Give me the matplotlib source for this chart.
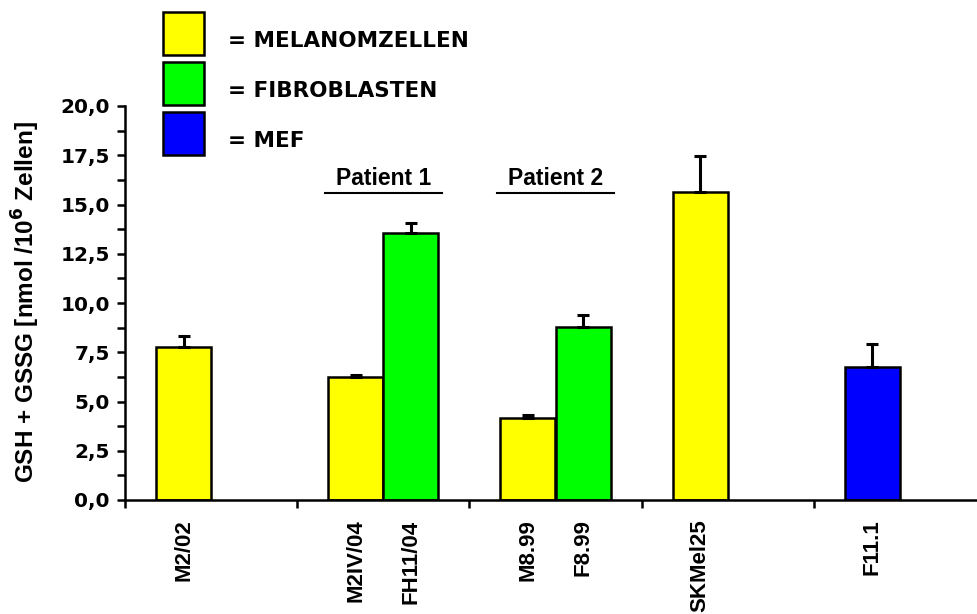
import numpy as np
import matplotlib.pyplot as plt
from matplotlib.patches import Rectangle
from matplotlib.ticker import MultipleLocator, FuncFormatter

# Daten
namen = ["M2/02", "M2IV/04", "FH11/04", "M8.99", "F8.99", "SKMel25", "F11.1"]
gruppe = [0, 1, 1, 2, 2, 3, 4]
platz = [0, 0, 1, 0, 1, 0, 0]  # 0 = links, 1 = rechts in der Gruppe
werte = [7.75, 6.22, 13.55, 4.15, 8.78, 15.63, 6.75]
fehler = [0.55, 0.12, 0.5, 0.15, 0.6, 1.83, 1.17]
typ = ["M", "M", "F", "M", "F", "M", "E"]
farben = {"M": "#ffff00", "F": "#00ff00", "E": "#0000ff"}
legende = [("M", "= MELANOMZELLEN"), ("F", "= FIBROBLASTEN"), ("E", "= MEF")]
patienten = [(1, "Patient 1"), (2, "Patient 2")]

plt.rcParams['font.weight'] = 'bold'
plt.rcParams['mathtext.default'] = 'bf'
breite = 0.32
pos = np.array(gruppe) + (np.array(platz) - 0.5) * breite

W, H = 977, 614
fig = plt.figure(figsize=(W / 100, H / 100), dpi=100)
ax = fig.add_axes([125 / W, 1 - 500 / H, 861 / W, 394 / H])

ax.bar(pos, werte, width=breite, color=[farben[t] for t in typ],
       edgecolor='black', linewidth=1.8, zorder=2)
ax.errorbar(pos, werte, yerr=[np.zeros(len(werte)), fehler], fmt='none',
            ecolor='black', elinewidth=2.2, capsize=4.5, capthick=2.2, zorder=3)

ax.set_xlim(-0.5, 4.5)
ax.set_ylim(0, 20)
for s in ['top', 'right']:
    ax.spines[s].set_visible(False)
for s in ['left', 'bottom']:
    ax.spines[s].set_linewidth(1.8)

# y-Achse
ax.yaxis.set_major_locator(MultipleLocator(2.5))
ax.yaxis.set_minor_locator(MultipleLocator(1.25))
ax.yaxis.set_major_formatter(FuncFormatter(lambda v, p: f"{v:.1f}".replace('.', ',')))
ax.tick_params(axis='y', which='both', direction='out', length=6, width=1.8)
ax.tick_params(axis='y', which='major', labelsize=14.4, pad=5)
for lab in ax.get_yticklabels():
    lab.set_family('DejaVu Sans')
    lab.set_fontweight('bold')

# x-Achse: Striche an Gruppengrenzen, Beschriftung unter den Balken
ax.set_xticks(np.arange(-0.5, 4.5, 1.0))
ax.set_xticklabels([])
ax.tick_params(axis='x', which='major', direction='out', length=6, width=1.8)
ax.set_xticks(pos, minor=True)
ax.set_xticklabels(namen, minor=True, rotation=90, va='top', ha='center',
                   family=['Liberation Sans', 'DejaVu Sans'], fontsize=16,
                   fontweight='bold')
ax.tick_params(axis='x', which='minor', length=0, pad=14)

fig.text(26 / W, 1 - 302 / H, "GSH + GSSG [nmol /10$^{6}$ Zellen]",
         rotation=90, ha='center', va='center',
         family=['Liberation Sans', 'DejaVu Sans'],
         fontsize=17.5, fontweight='bold')

# Patienten
for g, txt in patienten:
    ax.text(g, 16.0, txt, ha='center', va='baseline', fontsize=16.5,
            family=['Liberation Sans', 'DejaVu Sans'], fontweight='bold')
    ax.plot([g - 0.34, g + 0.34], [15.58, 15.58], color='black', lw=1.5,
            clip_on=False)

# Legende
for i, (t, txt) in enumerate(legende):
    y0 = 12 + 50 * i
    fig.add_artist(Rectangle((163 / W, 1 - (y0 + 43) / H), 41 / W, 43 / H,
                             transform=fig.transFigure, facecolor=farben[t],
                             edgecolor='black', linewidth=1.8))
    fig.text(228 / W, 1 - (y0 + 35) / H, txt, ha='left', va='baseline',
             fontsize=15.5, family='DejaVu Sans', fontweight='bold')

fig.savefig("out.png", dpi=100)
